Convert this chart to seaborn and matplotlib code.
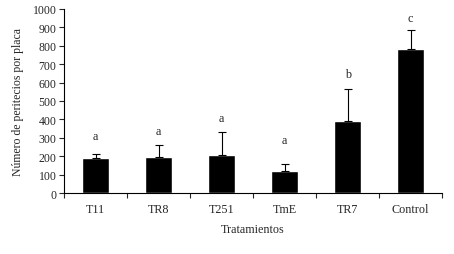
import numpy as np
import pandas as pd
import matplotlib
matplotlib.use("Agg")
import matplotlib.pyplot as plt
import seaborn as sns

# data
tratamientos = ["T11", "TR8", "T251", "TmE", "TR7", "Control"]
media = [190, 197, 208, 118, 391, 783]
error = [22, 64, 122, 40, 174, 101]
letras = ["a", "a", "a", "a", "b", "c"]
letra_y = [310, 337, 407, 288, 647, 951]

sns.set_theme(style="white")
plt.rcParams["font.family"] = ["Liberation Serif", "DejaVu Serif"]

df = pd.DataFrame({"Tratamiento": tratamientos, "Media": media})

fig = plt.figure(figsize=(4.54, 2.55), dpi=100)
ax = fig.add_axes([0.141, 0.239, 0.833, 0.722])

sns.barplot(data=df, x="Tratamiento", y="Media", color="black",
            width=0.42, saturation=1, ax=ax)

x = np.arange(len(tratamientos))
ax.errorbar(x, media, yerr=[np.zeros(len(error)), error], fmt="none",
            ecolor="black", elinewidth=0.8, capsize=3, capthick=0.8)

for xi, lt, ly in zip(x, letras, letra_y):
    ax.text(xi, ly, lt, ha="center", va="center", fontsize=8.7)

ax.set_ylim(0, 1000)
ax.set_xlim(-0.5, len(tratamientos) - 0.5)
ax.set_yticks(range(0, 1001, 100))
ax.set_xticks(np.arange(-0.5, len(tratamientos)), minor=True)
ax.tick_params(axis="x", which="major", length=0, labelsize=8.7, pad=7)
ax.tick_params(axis="x", which="minor", length=3.5, width=0.8, direction="out", bottom=True)
ax.tick_params(axis="y", length=3.5, width=0.8, direction="out", left=True, labelsize=8.5, pad=2)

for s in ["top", "right"]:
    ax.spines[s].set_visible(False)
for s in ["left", "bottom"]:
    ax.spines[s].set_color("black")
    ax.spines[s].set_linewidth(0.8)

ax.set_xlabel("Tratamientos", fontsize=8.7, labelpad=6)
ax.set_ylabel("Número de peritecios por placa", fontsize=8.5, labelpad=6)

fig.savefig("out.png", dpi=100)
